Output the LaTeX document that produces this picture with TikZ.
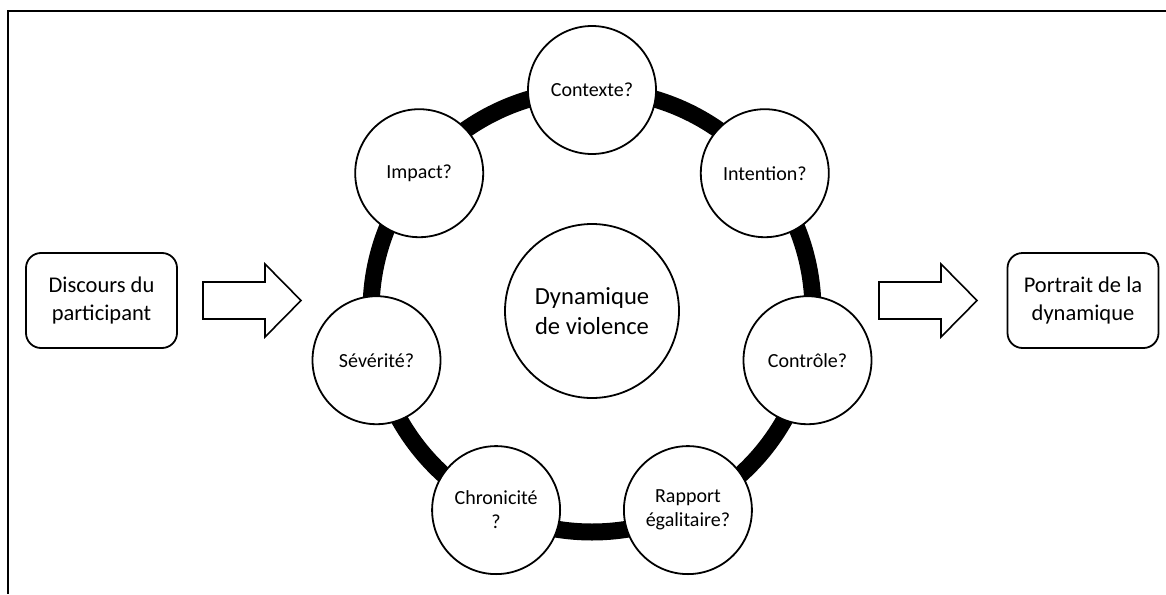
\documentclass[tikz,border=0pt]{standalone}
\usepackage{fontspec}
\setmainfont{Carlito}
\begin{document}
\begin{tikzpicture}[x=1pt,y=-1pt,
  ring/.style={line width=17pt, draw=black},
  qcircle/.style={circle, draw=black, line width=1.8pt, fill=white, minimum size=128pt, inner sep=0pt, align=center, font=\fontsize{20}{24}\selectfont},
  maincircle/.style={circle, draw=black, line width=1.8pt, fill=white, minimum size=174pt, inner sep=0pt, align=center, font=\fontsize{24.6}{29.5}\selectfont},
  rbox/.style={rectangle, rounded corners=15pt, draw=black, line width=1.8pt, minimum width=151pt, minimum height=95pt, inner sep=0pt, align=center, font=\fontsize{22.5}{28}\selectfont},
  blockarrow/.style={draw=black, line width=1.6pt, fill=white, line join=miter}
]
\useasboundingbox (0,0) rectangle (1166,594);
% frame (top and left edges only, as cropped)
\draw[line width=2.2pt] (1166,11) -- (8,11) -- (8,594);
% ring
\coordinate (cyc) at (592,311);
\draw[ring] (cyc) circle[radius=221];
% center
\node[maincircle] (dyn) at (cyc) {Dynamique\\de violence};
% outer circles
\node[qcircle] (contexte) at (592,90) {Contexte?};
\node[qcircle] (intention) at (764.8,173.2) {Intention?};
\node[qcircle] (controle) at (807.5,360.2) {Contrôle?};
\node[qcircle] (rapport) at (687.9,510.1) {Rapport\\égalitaire?};
\node[qcircle] (chronicite) at (496.1,510.1) {Chronicité\\?};
\node[qcircle] (severite) at (376.5,360.2) {Sévérité?};
\node[qcircle] (impact) at (419.2,173.2) {Impact?};
% side boxes
\node[rbox] (discours) at (101.5,300.5) {Discours du\\participant};
\node[rbox] (portrait) at (1083,300.5) {Portrait de la\\dynamique};
% block arrows
\draw[blockarrow] (203,282) -- (265,282) -- (265,264) -- (301,300.5) -- (265,337) -- (265,319) -- (203,319) -- cycle;
\draw[blockarrow] (879,282) -- (941,282) -- (941,264) -- (977,300.5) -- (941,337) -- (941,319) -- (879,319) -- cycle;
\end{tikzpicture}
\end{document}
